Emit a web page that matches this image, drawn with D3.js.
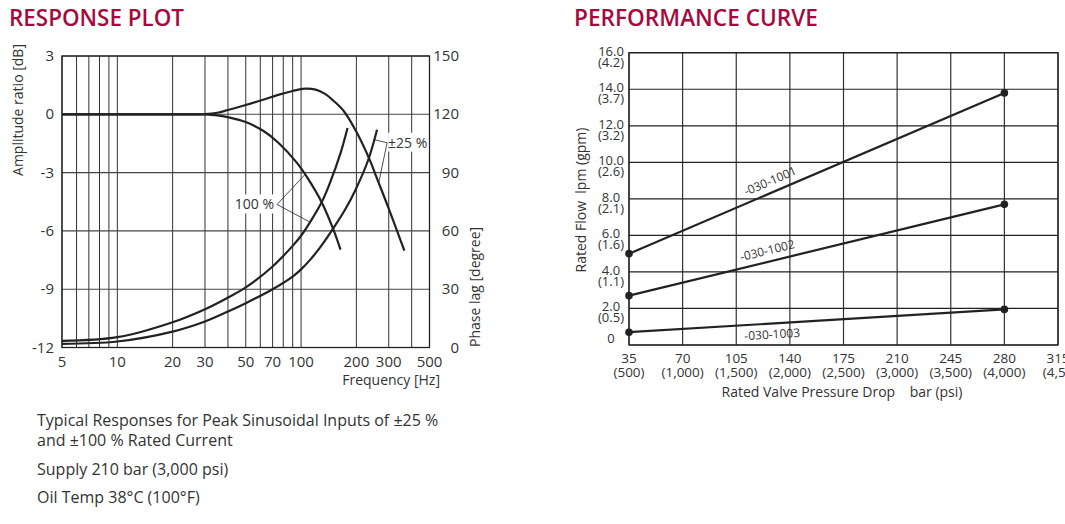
<!DOCTYPE html>
<html lang="en">
<head>
  <meta charset="UTF-8" />
  <title>Response Plot / Performance Curve</title>
  <script src="https://d3js.org/d3.v7.min.js"></script>
  <style>
    body { margin: 0; background: #fff; }
    svg { font-family: "Open Sans", "Noto Sans", sans-serif; }
    .title { fill: #a6093d; font-weight: 600; font-size: 23px; }
    .lbl { fill: #333; }
  </style>
</head>
<body>
  <svg id="chart" width="1065" height="524"></svg>

  <script>
    // ---- Response plot data (frequency in Hz) ----
    const freqTicks = [5, 10, 20, 30, 50, 70, 100, 200, 300, 500];
    const freqGrid = [5, 6, 7, 8, 9, 10, 20, 30, 40, 50, 60, 70, 80, 90, 100, 200, 300, 400, 500];
    const ampTicks = [3, 0, -3, -6, -9, -12];
    const phaseTicks = [150, 120, 90, 60, 30, 0];

    const amp25Freq = [5, 10, 20, 26, 30, 35, 40, 50, 62, 75, 90, 105, 120, 135, 150, 170.6, 200, 238, 254, 300, 333, 365];
    const amp25Db   = [0, 0, 0, 0, 0.01, 0.08, 0.22, 0.48, 0.75, 1.0, 1.2, 1.32, 1.27, 1.05, 0.7, 0.17, -0.9, -2.41, -3.1, -4.85, -6.0, -7.02];

    const amp100Freq = [5, 10, 20, 26, 30, 35, 41, 50, 62.5, 75, 95, 108, 130, 150, 164];
    const amp100Db   = [0, 0, 0, 0, -0.01, -0.06, -0.17, -0.4, -0.86, -1.45, -2.5, -3.25, -4.56, -5.93, -6.96];

    const ph100Freq = [5, 10, 20, 30, 40, 50, 70, 90, 100, 112, 130, 144, 164, 179];
    const ph100Deg  = [3.4, 5.3, 13.0, 19.7, 25.7, 30.9, 41.7, 52.3, 57.5, 64.5, 75.1, 85, 100, 112.9];

    const ph25Freq = [5, 10, 20, 30, 40, 50, 70, 90, 100, 112, 127, 150, 175, 198, 233, 259];
    const ph25Deg  = [1.9, 3.1, 8.2, 13.4, 18.5, 22.8, 30.0, 36.5, 40.2, 45.1, 51.5, 61.4, 71.5, 81.2, 97, 112];

    const notes = [
      "Typical Responses for Peak Sinusoidal Inputs of \u00b125 %",
      "and \u00b1100 % Rated Current",
      "Supply 210 bar (3,000 psi)",
      "Oil Temp 38\u00b0C (100\u00b0F)"
    ];

    // ---- Performance curve data (bar -> lpm) ----
    const barTicks = [35, 70, 105, 140, 175, 210, 245, 280, 315];
    const psiTicks = ["(500)", "(1,000)", "(1,500)", "(2,000)", "(2,500)", "(3,000)", "(3,500)", "(4,000)", "(4,50"];
    const lpmTicks = [16, 14, 12, 10, 8, 6, 4, 2, 0];
    const gpmTicks = ["(4.2)", "(3.7)", "(3.2)", "(2.6)", "(2.1)", "(1.6)", "(1.1)", "(0.5)", ""];

    const models = ["-030-1001", "-030-1002", "-030-1003"];
    const modelBar = [35, 280];
    const flow1001 = [5.0, 13.8];
    const flow1002 = [2.7, 7.7];
    const flow1003 = [0.7, 1.95];

    const svg = d3.select("#chart");
    const ink = "#222";

    // ================= RESPONSE PLOT =================
    const L = { left: 62, right: 429.5, top: 56, bottom: 347.5 };
    const x = d3.scaleLog().domain([5, 500]).range([L.left, L.right]);
    const yA = d3.scaleLinear().domain([-12, 3]).range([L.bottom, L.top]);
    const yP = d3.scaleLinear().domain([0, 150]).range([L.bottom, L.top]);

    svg.append("text").attr("class", "title")
      .attr("x", 9).attr("y", 26)
      .attr("textLength", 175).attr("lengthAdjust", "spacingAndGlyphs")
      .text("RESPONSE PLOT");

    const gL = svg.append("g");

    gL.selectAll("line.vg").data(freqGrid).join("line")
      .attr("x1", d => x(d)).attr("x2", d => x(d))
      .attr("y1", L.top).attr("y2", L.bottom)
      .attr("stroke", "#333").attr("stroke-width", 1);

    gL.selectAll("line.hg").data(ampTicks).join("line")
      .attr("x1", L.left).attr("x2", L.right)
      .attr("y1", d => yA(d)).attr("y2", d => yA(d))
      .attr("stroke", "#444").attr("stroke-width", 1.1);

    gL.append("rect")
      .attr("x", L.left).attr("y", L.top)
      .attr("width", L.right - L.left).attr("height", L.bottom - L.top)
      .attr("fill", "none").attr("stroke", ink).attr("stroke-width", 1.3);

    // left/right axis labels
    gL.selectAll("text.ya").data(ampTicks).join("text")
      .attr("class", "lbl").attr("x", 54).attr("y", d => yA(d) + 5)
      .attr("text-anchor", "end").style("font-size", "15px")
      .text(d => d);

    gL.selectAll("text.yp").data(phaseTicks).join("text")
      .attr("class", "lbl").attr("x", 459).attr("y", d => yP(d) + 5)
      .attr("text-anchor", "end").style("font-size", "15px")
      .text(d => d);

    gL.selectAll("text.xf").data(freqTicks).join("text")
      .attr("class", "lbl").attr("x", d => x(d)).attr("y", 367)
      .attr("text-anchor", "middle").style("font-size", "15px")
      .text(d => d);

    gL.append("text").attr("class", "lbl")
      .attr("x", 440).attr("y", 385).attr("text-anchor", "end")
      .style("font-size", "14px").text("Frequency [Hz]");

    gL.append("text").attr("class", "lbl")
      .attr("transform", "translate(23,110) rotate(-90)")
      .attr("text-anchor", "middle").style("font-size", "14px")
      .text("Amplitude ratio [dB]");

    gL.append("text").attr("class", "lbl")
      .attr("transform", "translate(480,347) rotate(-90)")
      .attr("text-anchor", "start").style("font-size", "14px")
      .text("Phase lag [degree]");

    // curves
    const curve = (fs, vs, ys) => d3.line()
      .x((d, i) => x(fs[i]))
      .y((d, i) => ys(vs[i]))
      .curve(d3.curveCatmullRom.alpha(0.5))(vs);

    [[amp25Freq, amp25Db, yA], [amp100Freq, amp100Db, yA],
     [ph100Freq, ph100Deg, yP], [ph25Freq, ph25Deg, yP]].forEach(([f, v, s]) => {
      gL.append("path")
        .attr("d", curve(f, v, s))
        .attr("fill", "none").attr("stroke", ink).attr("stroke-width", 2.2);
    });

    // callouts
    const c100 = [x(74), yA(-4.64)];
    const c25 = [x(294), yA(-1.46)];
    const pointers = [
      [c100, [x(105), yA(-3.1)]],
      [c100, [x(112), yP(64.5)]],
      [c25, [x(248), yP(107)]],
      [c25, [x(265), yA(-3.5)]]
    ];
    gL.selectAll("line.ptr").data(pointers).join("line")
      .attr("x1", d => d[0][0]).attr("y1", d => d[0][1])
      .attr("x2", d => d[1][0]).attr("y2", d => d[1][1])
      .attr("stroke", ink).attr("stroke-width", 0.8);

    gL.append("rect").attr("x", c100[0] - 45).attr("y", c100[1] - 10)
      .attr("width", 43).attr("height", 19).attr("fill", "#fff");
    gL.append("text").attr("class", "lbl")
      .attr("x", c100[0] - 3).attr("y", c100[1] + 5)
      .attr("text-anchor", "end").style("font-size", "14px").text("100 %");

    gL.append("rect").attr("x", c25[0] + 1).attr("y", c25[1] - 10)
      .attr("width", 40).attr("height", 19).attr("fill", "#fff");
    gL.append("text").attr("class", "lbl")
      .attr("x", c25[0] + 1).attr("y", c25[1] + 5)
      .attr("text-anchor", "start").style("font-size", "14px").text("\u00b125 %");

    // notes under the plot
    const noteY = [426, 446, 475, 503];
    svg.selectAll("text.note").data(notes).join("text")
      .attr("class", "lbl").attr("x", 37).attr("y", (d, i) => noteY[i])
      .style("font-size", "16px").text(d => d);

    // ================= PERFORMANCE CURVE =================
    const R = { left: 629, right: 1058, top: 52.7, bottom: 345 };
    const xb = d3.scaleLinear().domain([35, 315]).range([R.left, R.right]);
    const yq = d3.scaleLinear().domain([0, 16]).range([R.bottom, R.top]);

    svg.append("text").attr("class", "title")
      .attr("x", 574).attr("y", 26)
      .attr("textLength", 244).attr("lengthAdjust", "spacingAndGlyphs")
      .text("PERFORMANCE CURVE");

    const gR = svg.append("g");

    gR.selectAll("line.vg").data(barTicks).join("line")
      .attr("x1", d => xb(d)).attr("x2", d => xb(d))
      .attr("y1", R.top).attr("y2", R.bottom)
      .attr("stroke", "#333").attr("stroke-width", 1.2);

    gR.selectAll("line.hg").data(lpmTicks).join("line")
      .attr("x1", R.left).attr("x2", R.right)
      .attr("y1", d => yq(d)).attr("y2", d => yq(d))
      .attr("stroke", "#222").attr("stroke-width", 1.2);

    gR.append("rect")
      .attr("x", R.left).attr("y", R.top)
      .attr("width", R.right - R.left).attr("height", R.bottom - R.top)
      .attr("fill", "none").attr("stroke", ink).attr("stroke-width", 1.3);

    // y tick labels (lpm over gpm)
    const yt = gR.selectAll("g.yt").data(lpmTicks).join("g")
      .attr("transform", d => `translate(611,${yq(d)})`);
    yt.append("text").attr("class", "lbl")
      .attr("y", (d, i) => gpmTicks[i] ? 3 : -2)
      .attr("text-anchor", "middle").style("font-size", "13px")
      .text(d => d === 0 ? "0" : d.toFixed(1));
    yt.append("text").attr("class", "lbl")
      .attr("y", 14).attr("text-anchor", "middle").style("font-size", "13px")
      .text((d, i) => gpmTicks[i]);

    // x tick labels (bar over psi)
    const xt = gR.selectAll("g.xt").data(barTicks).join("g")
      .attr("transform", d => `translate(${xb(d)},0)`);
    xt.append("text").attr("class", "lbl")
      .attr("y", 363).attr("text-anchor", "middle").style("font-size", "13.5px")
      .text(d => d);
    xt.append("text").attr("class", "lbl")
      .attr("y", 377).attr("text-anchor", "middle").style("font-size", "13.5px")
      .text((d, i) => psiTicks[i]);

    gR.append("text").attr("class", "lbl")
      .attr("x", 842).attr("y", 397).attr("text-anchor", "middle")
      .style("font-size", "14px").style("white-space", "pre")
      .text("Rated Valve Pressure Drop    bar (psi)");

    gR.append("text").attr("class", "lbl")
      .attr("transform", "translate(586,200) rotate(-90)")
      .attr("text-anchor", "middle").style("font-size", "14px")
      .style("white-space", "pre")
      .text("Rated Flow  lpm (gpm)");

    // model lines
    const flows = [flow1001, flow1002, flow1003];
    const labelBar = [130, 127, 128];
    const labelOff = [-11, -11, 11];
    flows.forEach((fl, k) => {
      const pts = modelBar.map((b, i) => [xb(b), yq(fl[i])]);
      gR.append("path")
        .attr("d", d3.line()(pts))
        .attr("fill", "none").attr("stroke", ink).attr("stroke-width", 2.2);
      gR.selectAll(null).data(pts).join("circle")
        .attr("cx", d => d[0]).attr("cy", d => d[1]).attr("r", 3.8)
        .attr("fill", ink);

      const t = (labelBar[k] - modelBar[0]) / (modelBar[1] - modelBar[0]);
      const lx = xb(labelBar[k]);
      const ly = yq(fl[0] + t * (fl[1] - fl[0]));
      const ang = Math.atan2(pts[1][1] - pts[0][1], pts[1][0] - pts[0][0]) * 180 / Math.PI;
      gR.append("text").attr("class", "lbl")
        .attr("transform", `translate(${lx},${ly}) rotate(${ang}) translate(0,${labelOff[k] + 4})`)
        .attr("text-anchor", "middle").style("font-size", "12px")
        .text(models[k]);
    });
  </script>
</body>
</html>
